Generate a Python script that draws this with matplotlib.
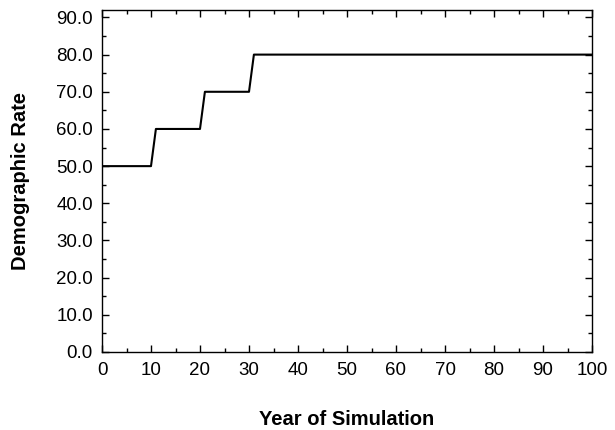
import matplotlib
matplotlib.use('Agg')
import matplotlib.pyplot as plt
from matplotlib.ticker import MultipleLocator, FormatStrFormatter

# step profile of the demographic rate over the simulation
years = [0, 10, 11, 20, 21, 30, 31, 100]
rates = [50, 50, 60, 60, 70, 70, 80, 80]

plt.rcParams['font.family'] = ['Liberation Sans', 'DejaVu Sans']

fig = plt.figure(figsize=(6.15, 4.3), dpi=100)
ax = fig.add_axes([102 / 615, 1 - 352 / 430, 490 / 615, 342 / 430])

ax.plot(years, rates, color='black', linewidth=1.5)

ax.set_xlim(0, 100)
ax.set_ylim(0, 92)
ax.xaxis.set_major_locator(MultipleLocator(10))
ax.xaxis.set_minor_locator(MultipleLocator(5))
ax.yaxis.set_major_locator(MultipleLocator(10))
ax.yaxis.set_minor_locator(MultipleLocator(5))
ax.yaxis.set_major_formatter(FormatStrFormatter('%.1f'))

ax.tick_params(which='both', direction='in', top=True, right=True,
               labelsize=13.5, width=1, colors='black')
ax.tick_params(which='major', length=5)
ax.tick_params(which='minor', length=3)
ax.tick_params(axis='x', which='major', pad=7)
ax.tick_params(axis='y', which='major', pad=6.5)
for s in ax.spines.values():
    s.set_linewidth(1)

ax.set_xlabel('Year of Simulation', fontsize=14.5, fontweight='bold', va='center')
ax.set_ylabel('Demographic Rate', fontsize=14.5, fontweight='bold', va='center')
ax.xaxis.set_label_coords(0.5, -0.196)
ax.yaxis.set_label_coords(-0.167, 0.5)

fig.savefig('out.png', dpi=100)
